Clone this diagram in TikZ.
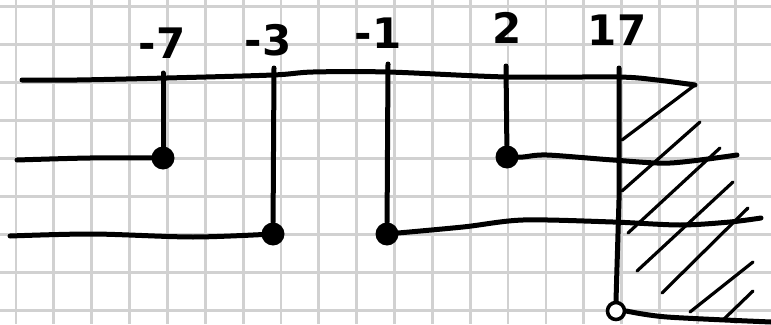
\documentclass[tikz,border=0pt]{standalone}
\usepackage{fontspec}
\setmainfont{DejaVu Sans}
\begin{document}
\begin{tikzpicture}[x=1pt,y=-1pt,
  gridline/.style={draw=black!18,line width=2.8pt},
  pen/.style={line width=5pt,line cap=round,line join=round},
  hatch/.style={line width=3.2pt,line cap=round},
  dotnode/.style={circle,fill=black,inner sep=0pt,minimum size=23pt},
  opendot/.style={circle,draw,fill=white,line width=3.6pt,inner sep=0pt,minimum size=17pt},
  lbl/.style={inner sep=0pt,font=\fontsize{42}{42}\selectfont\bfseries}]
\useasboundingbox (0,0) rectangle (771,324);
\fill[white] (0,0) rectangle (771,324);
% grid paper
\foreach \i in {0,...,20} \draw[gridline] ({16+37.85*\i},0) -- ({16+37.85*\i},324);
\foreach \j in {0,...,8} \draw[gridline] (0,{6.5+38*\j}) -- (771,{6.5+38*\j});
% labels
\node[lbl] (n1) at (162,43) {-7};
\node[lbl] (n2) at (268,40) {-3};
\node[lbl] (n3) at (378,33) {-1};
\node[lbl] (n4) at (507,28) {2};
\node[lbl] (n5) at (617,30) {17};
% tick tops
\coordinate (t1) at (163,73);
\coordinate (t2) at (274,68);
\coordinate (t3) at (388,64);
\coordinate (t4) at (506,66);
\coordinate (t5) at (619,68);
% top line ends
\coordinate (tl) at (22,80);
\coordinate (tr) at (695,85);
% left and right line ends
\coordinate (l1) at (17,160);
\coordinate (l2) at (10,236);
\coordinate (r3) at (761,218);
\coordinate (r4) at (737,155);
\coordinate (r5) at (771,322);
% dots
\node[dotnode] (d1) at (163,158) {};
\node[dotnode] (d2) at (273,234) {};
\node[dotnode] (d3) at (387,234) {};
\node[dotnode] (d4) at (507,157) {};
% top line
\draw[pen] plot[smooth,tension=0.5] coordinates {(tl) (77,80) (167,78) (273,75) (313,72) (388,72) (507,77) (618,77) (657,80) (tr)};
% verticals
\draw[pen] (t1) -- (d1);
\draw[pen] (t2) -- (d2);
\draw[pen] (t3) -- (d3);
\draw[pen] (t4) -- (d4);
% left lines
\draw[pen] plot[smooth,tension=0.5] coordinates {(l1) (90,158) (d1)};
\draw[pen] plot[smooth,tension=0.5] coordinates {(l2) (93,234) (193,237) (d2)};
% right lines
\draw[pen] plot[smooth,tension=0.5] coordinates {(d3) (463,227) (523,220) (613,222) (680,225) (730,222) (r3)};
\draw[pen] plot[smooth,tension=0.5] coordinates {(d4) (523,157) (547,155) (613,160) (670,163) (r4)};
% boundary at 17
\node[opendot] (o) at (616,311) {};
\draw[pen] (t5) -- (619,200) -- (o.north);
\draw[pen] plot[smooth,tension=0.5] coordinates {(o.east) (667,317) (r5)};
% hatching
\draw[hatch] (tr) -- (622,140);
\draw[hatch] (700,122) -- (622,191);
\draw[hatch] (720,148) -- (628,233);
\draw[hatch] (733,182) -- (637,271);
\draw[hatch] (748,208) -- (662,293);
\draw[hatch] (753,262) -- (690,312);
\draw[hatch] (753,291) -- (723,320);
\end{tikzpicture}
\end{document}
